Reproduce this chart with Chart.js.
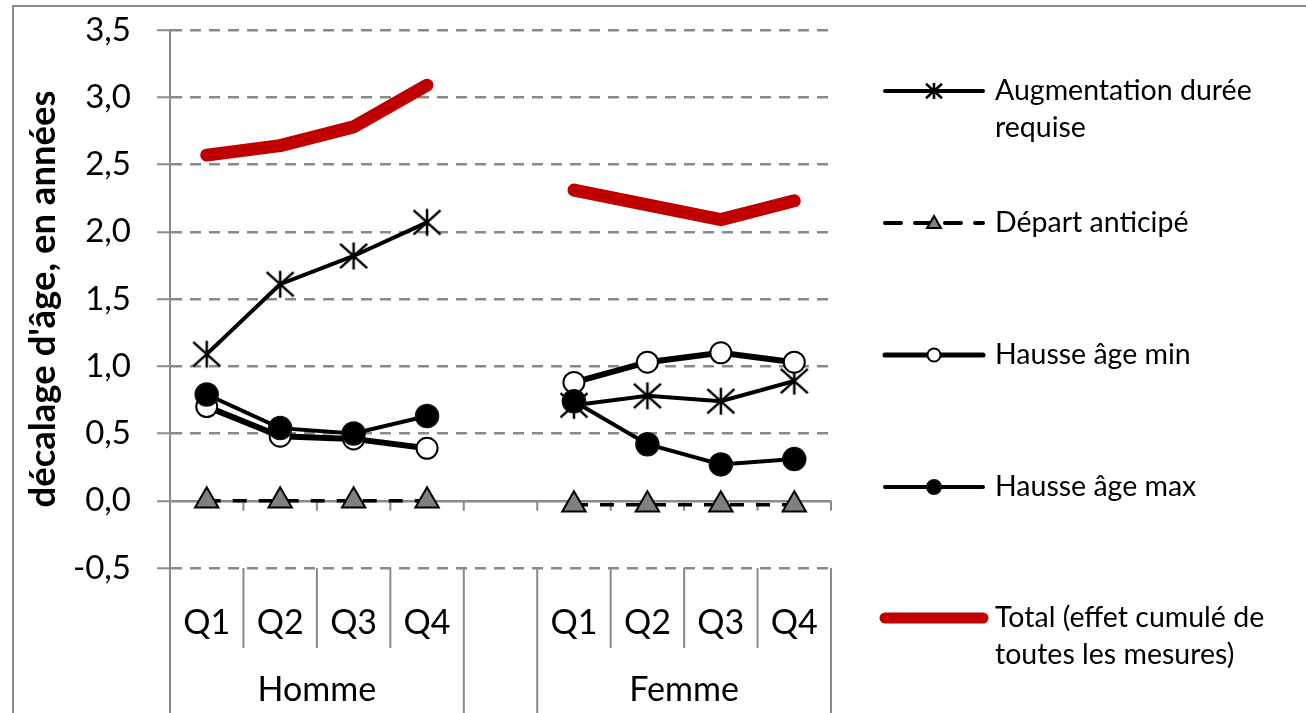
<!DOCTYPE html>
<html lang="fr">
<head>
<meta charset="utf-8">
<title>Décalage d'âge par quartile</title>
<script src="https://cdn.jsdelivr.net/npm/chart.js@4.4.1/dist/chart.umd.min.js"></script>
<style>
  html, body { margin: 0; padding: 0; background: #fff; }
  .wrap { position: relative; width: 1306px; height: 713px; overflow: hidden; }
  .wrap canvas { position: absolute; left: 0; top: 0; }
  .frame {
    position: absolute; left: 12px; top: 5px; right: -10px; bottom: -10px;
    border-left: 2px solid #8c8c8c; border-top: 2px solid #8c8c8c;
    pointer-events: none;
  }
</style>
</head>
<body>
<div class="wrap">
  <canvas id="chart" width="1306" height="713"></canvas>
  <div class="frame"></div>
</div>
<script>
// catégories (une case vide entre les deux groupes)
const quartiles = ['Q1', 'Q2', 'Q3', 'Q4', '', 'Q1', 'Q2', 'Q3', 'Q4'];
const groupes = ['Homme', 'Femme'];
const groupeSlots = [[0, 3], [5, 8]];
const yTicks = [-0.5, 0, 0.5, 1, 1.5, 2, 2.5, 3, 3.5];

// séries
const augmentation = [1.09, 1.61, 1.82, 2.07, null, 0.71, 0.78, 0.74, 0.89];
const departAnticipe = [0, 0, 0, 0, null, -0.03, -0.03, -0.03, -0.03];
const hausseMin = [0.70, 0.48, 0.46, 0.39, null, 0.88, 1.03, 1.10, 1.03];
const hausseMax = [0.79, 0.54, 0.50, 0.63, null, 0.74, 0.42, 0.27, 0.31];
const total = [2.57, 2.64, 2.78, 3.09, null, 2.31, 2.20, 2.09, 2.23];

const nomsSeries = [
    ['Augmentation durée', 'requise'],
    ['Départ anticipé'],
    ['Hausse âge min'],
    ['Hausse âge max'],
    ['Total (effet cumulé de', 'toutes les mesures)']
];

const FONT = 'Lato, "Open Sans", sans-serif';
const GRIS = '#8a8a8a';

// marqueur étoile (trait vertical + croix)
function dessinerEtoile(g, x, y, r, lw) {
    g.save();
    g.strokeStyle = '#000';
    g.lineWidth = lw;
    g.beginPath();
    g.moveTo(x, y - r); g.lineTo(x, y + r);
    g.moveTo(x - r, y - r * 0.9); g.lineTo(x + r, y + r * 0.9);
    g.moveTo(x - r, y + r * 0.9); g.lineTo(x + r, y - r * 0.9);
    g.stroke();
    g.restore();
}

function creerEtoile(r, lw) {
    const c = document.createElement('canvas');
    const s = Math.ceil(2 * r + lw * 2);
    c.width = s; c.height = s;
    dessinerEtoile(c.getContext('2d'), s / 2, s / 2, r, lw);
    return c;
}

const etoile = creerEtoile(13.5, 2.5);

// lignes de séparation, étiquettes de catégories et groupes
const axeCategories = {
    id: 'axeCategories',
    beforeDatasetsDraw(chart) {
        const ctx = chart.ctx;
        const x = chart.scales.x, y = chart.scales.y;
        const y0 = y.getPixelForValue(0);
        ctx.save();
        ctx.strokeStyle = GRIS;
        ctx.lineWidth = 2;
        ctx.beginPath();
        for (let i = 0; i < quartiles.length; i++) {
            const bx = i < quartiles.length - 1
                ? (x.getPixelForValue(i) + x.getPixelForValue(i + 1)) / 2
                : chart.chartArea.right;
            ctx.moveTo(bx, y0);
            ctx.lineTo(bx, y0 + 10);
        }
        ctx.stroke();
        ctx.restore();
    },
    afterDraw(chart) {
        const ctx = chart.ctx;
        const x = chart.scales.x;
        const area = chart.chartArea;
        const bas = chart.height;
        const yQ = area.bottom + 55;
        const yG = area.bottom + 122;
        const limite = i => (x.getPixelForValue(i) + x.getPixelForValue(i + 1)) / 2;

        ctx.save();
        ctx.strokeStyle = GRIS;
        ctx.lineWidth = 2;
        ctx.beginPath();
        // axe vertical prolongé
        ctx.moveTo(area.left, area.bottom); ctx.lineTo(area.left, bas);
        ctx.moveTo(area.right, area.bottom); ctx.lineTo(area.right, bas);
        for (let i = 0; i < quartiles.length - 1; i++) {
            const bx = limite(i);
            const frontiere = quartiles[i] === '' || quartiles[i + 1] === '';
            ctx.moveTo(bx, area.bottom);
            ctx.lineTo(bx, frontiere ? bas : area.bottom + 80);
        }
        ctx.stroke();

        ctx.fillStyle = '#000';
        ctx.font = '34px ' + FONT;
        ctx.textAlign = 'center';
        ctx.textBaseline = 'middle';
        quartiles.forEach((q, i) => {
            if (q) ctx.fillText(q, x.getPixelForValue(i), yQ);
        });
        groupes.forEach((g, k) => {
            const [a, b] = groupeSlots[k];
            const cx = (x.getPixelForValue(a) + x.getPixelForValue(b)) / 2;
            ctx.fillText(g, cx, yG);
        });
        ctx.restore();
    }
};

// légende à droite
const legende = {
    id: 'legende',
    afterDraw(chart) {
        const ctx = chart.ctx;
        const ys = [91, 223, 355, 487, 618];
        const x1 = 885, x2 = 983, xm = 934, xt = 995;
        const helpers = Chart.helpers;
        ctx.save();
        chart.data.datasets.forEach((ds, i) => {
            const y = ys[i];
            ctx.save();
            ctx.strokeStyle = ds.borderColor;
            ctx.lineWidth = ds.legendWidth || ds.borderWidth;
            ctx.lineCap = ds.borderCapStyle || 'round';
            ctx.setLineDash(ds.legendDash || []);
            ctx.beginPath();
            ctx.moveTo(x1, y); ctx.lineTo(x2, y);
            ctx.stroke();
            ctx.restore();

            if (ds.pointStyle === etoile) {
                dessinerEtoile(ctx, xm, y, 8, 2.5);
            } else if (ds.pointRadius > 0) {
                ctx.save();
                ctx.fillStyle = ds.pointBackgroundColor;
                ctx.strokeStyle = ds.pointBorderColor;
                ctx.lineWidth = 2;
                helpers.drawPoint(ctx, {
                    pointStyle: ds.pointStyle, rotation: 0,
                    radius: ds.legendRadius, borderWidth: 2
                }, xm, y + (ds.pointStyle === 'triangle' ? 1 : 0));
                ctx.restore();
            }

            ctx.fillStyle = '#000';
            ctx.font = '28.5px ' + FONT;
            ctx.textAlign = 'left';
            ctx.textBaseline = 'middle';
            nomsSeries[i].forEach((ligne, k) => ctx.fillText(ligne, xt, y + k * 37));
        });
        ctx.restore();
    }
};

new Chart(document.getElementById('chart'), {
    type: 'line',
    data: {
        labels: quartiles,
        datasets: [{
            label: nomsSeries[0].join(' '),
            data: augmentation,
            borderColor: '#000',
            borderWidth: 4,
            pointStyle: etoile,
            pointRadius: 13,
            legendWidth: 4,
            order: 2
        }, {
            label: nomsSeries[1].join(' '),
            data: departAnticipe,
            borderColor: '#000',
            borderWidth: 3.5,
            borderDash: [14, 12],
            legendDash: [16, 14],
            legendWidth: 4,
            pointStyle: 'triangle',
            pointRadius: 13.5,
            legendRadius: 8,
            pointBackgroundColor: '#808080',
            pointBorderColor: '#000',
            pointBorderWidth: 2,
            order: 3
        }, {
            label: nomsSeries[2].join(' '),
            data: hausseMin,
            borderColor: '#000',
            borderWidth: 6,
            pointStyle: 'circle',
            pointRadius: 10.5,
            legendRadius: 6.5,
            legendWidth: 5,
            pointBackgroundColor: '#fff',
            pointBorderColor: '#000',
            pointBorderWidth: 2,
            order: 1
        }, {
            label: nomsSeries[3].join(' '),
            data: hausseMax,
            borderColor: '#000',
            borderWidth: 4,
            pointStyle: 'circle',
            pointRadius: 11.5,
            legendRadius: 7,
            legendWidth: 4,
            pointBackgroundColor: '#000',
            pointBorderColor: '#111',
            pointBorderWidth: 1.5,
            order: 0
        }, {
            label: nomsSeries[4].join(' '),
            data: total,
            borderColor: '#c00000',
            borderWidth: 13,
            borderCapStyle: 'round',
            borderJoinStyle: 'round',
            legendWidth: 11,
            pointRadius: 0,
            order: 4
        }]
    },
    options: {
        responsive: false,
        animation: false,
        devicePixelRatio: 1,
        spanGaps: false,
        layout: { padding: { left: 0, top: 30, right: 475, bottom: 145 } },
        plugins: {
            legend: { display: false },
            tooltip: { enabled: false }
        },
        elements: { line: { tension: 0 } },
        scales: {
            x: {
                display: false,
                offset: true
            },
            y: {
                min: -0.5,
                max: 3.5,
                afterBuildTicks: s => { s.ticks = yTicks.map(v => ({ value: v })); },
                afterFit: s => {
                    s.width = 170;
                    s.paddingTop = 0;
                    s.paddingBottom = 0;
                },
                grid: {
                    color: GRIS,
                    lineWidth: 2.5,
                    drawTicks: true,
                    tickLength: 13,
                    tickColor: GRIS,
                    tickWidth: 2
                },
                border: {
                    display: true,
                    color: GRIS,
                    width: 2,
                    dash: c => (c.tick && Math.abs(c.tick.value) < 1e-9) ? [] : [11, 8]
                },
                ticks: {
                    color: '#000',
                    padding: 26,
                    font: { family: FONT, size: 33 },
                    callback: v => v.toFixed(1).replace('.', ',')
                },
                title: {
                    display: true,
                    text: "décalage d'âge, en années",
                    color: '#000',
                    font: { family: FONT, size: 36.5, weight: 'bold' },
                    padding: { top: 21, bottom: 0 }
                }
            }
        }
    },
    plugins: [axeCategories, legende]
});
</script>
</body>
</html>
